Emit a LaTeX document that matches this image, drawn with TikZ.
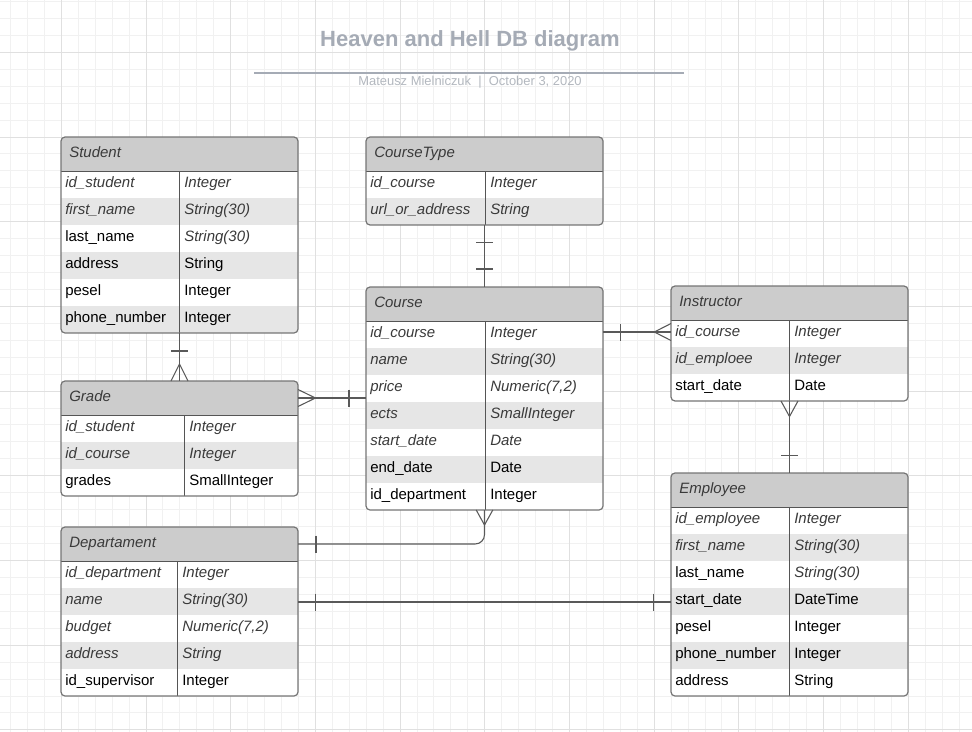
\documentclass[tikz,border=0pt]{standalone}
\usepackage{fontspec}
\setmainfont{Liberation Sans}
\usetikzlibrary{calc}
\definecolor{gridminor}{HTML}{F1F1F1}
\definecolor{gridmajor}{HTML}{E0E0E0}
\definecolor{titlecol}{HTML}{A5ABB5}
\definecolor{subcol}{HTML}{B3B8BF}
\definecolor{headfill}{HTML}{CCCCCC}
\definecolor{rowshade}{HTML}{E6E6E6}
\definecolor{framecol}{HTML}{757575}
\definecolor{divcol}{HTML}{555555}
\definecolor{conncol}{HTML}{595959}
\definecolor{itcol}{HTML}{3A3A3A}
\newcommand\iz{\itshape\color{itcol}}
\tikzset{
  gridmin/.style={draw=gridminor, line width=0.75pt},
  gridmaj/.style={draw=gridmajor, line width=0.75pt},
  cell/.style={anchor=base west, inner sep=0pt, font=\fontsize{11.25}{13}\selectfont, text=black},
  headtext/.style={anchor=base west, inner sep=0pt, font=\fontsize{11.25}{13}\selectfont\itshape, text=itcol},
  erframe/.style={draw=framecol, line width=0.9pt, rounded corners=3pt, inner sep=0pt, outer sep=0pt, anchor=north west},
  divline/.style={draw=divcol, line width=0.75pt},
  conn/.style={draw=conncol, line width=0.8pt},
}
% #1 name, #2 left, #3 top, #4 column x, #5 header, #6 number of rows, #7 rows
\newcommand\ertable[7]{%
  \pgfmathsetmacro\erbot{#3+34+27*#6}
  \begin{scope}
    \clip[rounded corners=3pt] (#2,#3) rectangle (#2+237,\erbot);
    \fill[white] (#2,#3) rectangle (#2+237,\erbot);
    \fill[headfill] (#2,#3) rectangle (#2+237,#3+34);
    \foreach \ra/\rb [count=\i] in {#7} {
      \pgfmathsetmacro\rtop{#3+34+27*(\i-1)}
      \ifodd\i\else\fill[rowshade] (#2,\rtop) rectangle (#2+237,\rtop+27);\fi
    }
  \end{scope}
  \draw[divline] (#2,#3+34) -- (#2+237,#3+34);
  \draw[divline] (#4,#3+34) -- (#4,\erbot);
  \node[erframe, minimum width={237*0.75pt}, minimum height={(34+27*#6)*0.75pt}] (#1) at (#2,#3) {};
  \node[headtext] (#1-head) at (#2+8,#3+20.3) {#5};
  \foreach \ra/\rb [count=\i] in {#7} {
    \pgfmathsetmacro\rtop{#3+34+27*(\i-1)}
    \node[cell] (#1-\i-a) at (#2+4,\rtop+16) {\ra};
    \node[cell] (#1-\i-b) at (#4+5,\rtop+16) {\rb};
  }
}
\begin{document}
\begin{tikzpicture}[x=0.75pt,y=-0.75pt]
\useasboundingbox (0,0) rectangle (972,732);
\fill[white] (0,0) rectangle (972,732);
\begin{scope}
  \clip (0,0) rectangle (972,732);
  \foreach \k in {-4,...,54} \draw[gridmin] ({61.3+16.94*\k},0) -- ++(0,732);
  \foreach \k in {-4,...,42} \draw[gridmin] (0,{52.3+16.94*\k}) -- ++(972,0);
  \foreach \k in {-1,...,11} \draw[gridmaj] ({61.3+84.7*\k},0) -- ++(0,732);
  \foreach \k in {-1,...,9} \draw[gridmaj] (0,{52.3+84.7*\k}) -- ++(972,0);
\end{scope}

% title
\node[anchor=base, inner sep=0pt, text=titlecol, font=\fontsize{16.5}{18}\selectfont\bfseries] (title) at (470,46.7) {Heaven and Hell DB diagram};
\coordinate (rule-l) at (254,72.7);
\coordinate (rule-r) at (684,72.7);
\draw[draw=titlecol, line width=1.5pt] (rule-l) -- (rule-r);
\node[anchor=base, inner sep=0pt, text=subcol, font=\fontsize{9.7}{11}\selectfont] (subtitle) at (470,85) {Mateusz Mielniczuk\ \ |\ \ October 3, 2020};

% tables
\ertable{student}{61}{137}{179}{Student}{6}{{\iz id\_student}/{\iz Integer},{\iz first\_name}/{\iz String(30)},{last\_name}/{\iz String(30)},{address}/{String},{pesel}/{Integer},{phone\_number}/{Integer}}
\ertable{coursetype}{366}{137}{485}{CourseType}{2}{{\iz id\_course}/{\iz Integer},{\iz url\_or\_address}/{\iz String}}
\ertable{course}{366}{287}{485}{Course}{7}{{\iz id\_course}/{\iz Integer},{\iz name}/{\iz String(30)},{\iz price}/{\iz Numeric(7,2)},{\iz ects}/{\iz SmallInteger},{\iz start\_date}/{\iz Date},{end\_date}/{Date},{id\_department}/{Integer}}
\ertable{instructor}{671}{286}{789}{Instructor}{3}{{\iz id\_course}/{\iz Integer},{\iz id\_emploee}/{\iz Integer},{start\_date}/{Date}}
\ertable{grade}{61}{381}{184}{Grade}{3}{{\iz id\_student}/{\iz Integer},{\iz id\_course}/{\iz Integer},{grades}/{SmallInteger}}
\ertable{departament}{61}{527}{177}{Departament}{5}{{\iz id\_department}/{\iz Integer},{\iz name}/{\iz String(30)},{\iz budget}/{\iz Numeric(7,2)},{\iz address}/{\iz String},{id\_supervisor}/{Integer}}
\ertable{employee}{671}{473}{789}{Employee}{7}{{\iz id\_employee}/{\iz Integer},{\iz first\_name}/{\iz String(30)},{last\_name}/{\iz String(30)},{start\_date}/{DateTime},{pesel}/{Integer},{phone\_number}/{Integer},{address}/{String}}

% Student - Grade
\coordinate (sg1) at (student.south);
\coordinate (sg2) at (grade.north);
\draw[conn] (sg1) -- (sg2);
\draw[conn] ($(sg1)+(-8.5,18)$) -- ($(sg1)+(8.5,18)$);
\draw[conn] ($(sg2)+(-8.5,0)$) -- ($(sg2)+(0,-17)$) -- ($(sg2)+(8.5,0)$);

% Grade - Course
\coordinate (gc1) at ($(grade.north east)+(0,17)$);
\coordinate (gc2) at (gc1 -| course.west);
\draw[conn] (gc1) -- (gc2);
\draw[conn] ($(gc1)+(0,-8.5)$) -- ($(gc1)+(17.5,0)$) -- ($(gc1)+(0,8.5)$);
\draw[conn] ($(gc2)+(-17,-8.5)$) -- ($(gc2)+(-17,8.5)$);

% CourseType - Course
\coordinate (tc1) at (coursetype.south);
\coordinate (tc2) at (course.north);
\draw[conn] (tc1) -- (tc2);
\draw[conn] ($(tc1)+(-8.5,17.5)$) -- ($(tc1)+(8.5,17.5)$);
\draw[conn] ($(tc2)+(-8.5,-18)$) -- ($(tc2)+(8.5,-18)$);

% Course - Instructor
\coordinate (ci2) at ($(instructor.north west)+(0,46)$);
\coordinate (ci1) at (ci2 -| course.east);
\draw[conn] (ci1) -- (ci2);
\draw[conn] ($(ci1)+(17.7,-8.5)$) -- ($(ci1)+(17.7,8.5)$);
\draw[conn] ($(ci2)+(0,-8.5)$) -- ($(ci2)+(-16.7,0)$) -- ($(ci2)+(0,8.5)$);

% Instructor - Employee
\coordinate (ie1) at (instructor.south);
\coordinate (ie2) at (employee.north);
\draw[conn] (ie1) -- (ie2);
\draw[conn] ($(ie1)+(-8.5,0)$) -- ($(ie1)+(0,15.5)$) -- ($(ie1)+(8.5,0)$);
\draw[conn] ($(ie2)+(-8.5,-17.7)$) -- ($(ie2)+(8.5,-17.7)$);

% Course - Departament
\coordinate (cd1) at (course.south);
\coordinate (cd2) at ($(departament.north east)+(0,17)$);
\draw[conn, rounded corners=7pt] (cd1) |- (cd2);
\draw[conn] ($(cd1)+(-8.3,0)$) -- ($(cd1)+(0,15)$) -- ($(cd1)+(8.3,0)$);
\draw[conn] ($(cd2)+(18,-8.5)$) -- ($(cd2)+(18,8.5)$);

% Departament - Employee
\coordinate (de1) at ($(departament.north east)+(0,75)$);
\coordinate (de2) at (de1 -| employee.west);
\draw[conn] (de1) -- (de2);
\draw[conn] ($(de1)+(17.7,-8.5)$) -- ($(de1)+(17.7,8.5)$);
\draw[conn] ($(de2)+(-17.7,-8.5)$) -- ($(de2)+(-17.7,8.5)$);
\end{tikzpicture}
\end{document}
